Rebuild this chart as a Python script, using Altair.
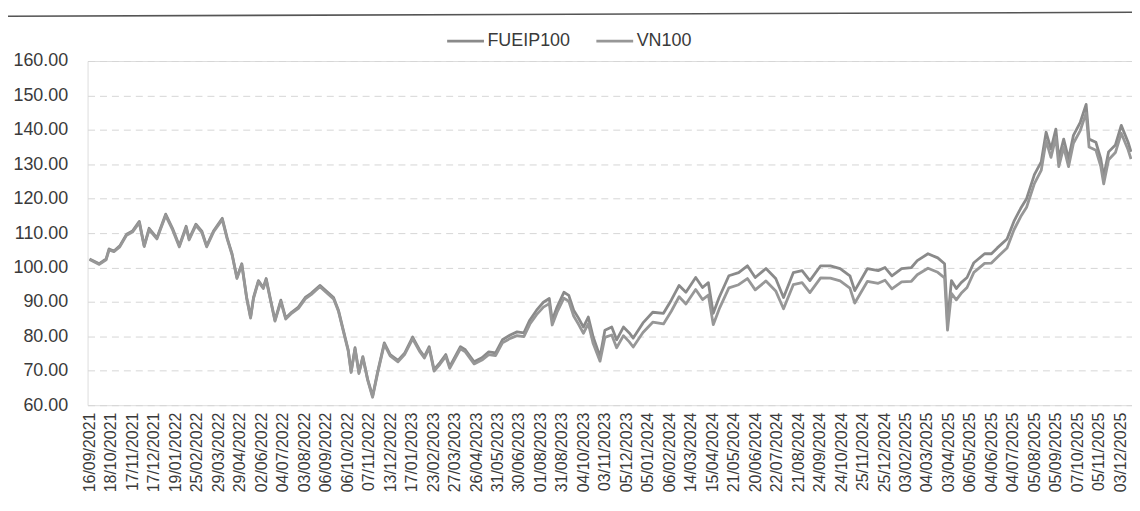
import json
import altair as alt
import pandas as pd

# trading-day index (category position) of each read point
days = [0, 10, 17, 20, 25, 31, 38, 44, 51, 56, 61, 69, 78, 85, 92, 99, 102, 109, 115, 120,
        127, 136, 141, 146, 151, 156, 161, 165, 168, 173, 178, 181, 185, 190, 196, 201, 207, 214, 221, 227,
        236, 242, 250, 255, 260, 265, 268, 272, 276, 280, 285, 290, 295, 302, 308, 316, 323, 331, 338, 343,
        348, 353, 359, 365, 369, 380, 385, 394, 402, 409, 416, 423, 431, 438, 445, 451, 458, 465, 471, 474,
        479, 486, 491, 496, 501, 506, 511, 516, 523, 528, 535, 540, 547, 553, 557, 567, 577, 588, 596, 604,
        611, 621, 628, 634, 639, 645, 655, 665, 674, 682, 693, 703, 711, 721, 730, 738, 749, 759, 769, 779,
        784, 797, 808, 815, 822, 832, 842, 848, 859, 869, 876, 879, 883, 888, 893, 899, 906, 917, 924, 930,
        940, 947, 954, 960, 968, 975, 980, 985, 990, 993, 998, 1003, 1008, 1015, 1021, 1024, 1031, 1036, 1039, 1044,
        1051, 1057, 1064, 1067]

fueip100 = [102.5, 101.1, 102.5, 105.4, 104.8, 106.3, 109.7, 110.6, 113.4, 106.3, 111.4, 108.6, 115.5, 111.4, 106.3, 112.0, 108.3, 112.6, 110.6, 106.3,
            110.6, 114.3, 108.6, 104.0, 97.1, 101.1, 91.3, 85.6, 91.3, 96.2, 94.2, 96.8, 91.3, 84.7, 90.5, 85.3, 87.0, 88.5, 91.3, 92.5,
            94.8, 93.3, 91.3, 87.6, 81.8, 76.1, 69.8, 76.7, 69.5, 74.1, 67.5, 62.6, 69.5, 78.1, 74.7, 73.0, 75.2, 79.8, 76.1, 74.1,
            77.0, 70.3, 72.4, 74.7, 71.2, 77.0, 76.1, 72.6, 73.8, 75.5, 75.2, 79.0, 80.4, 81.3, 81.0, 84.7, 87.6, 89.9, 91.0, 84.7,
            88.5, 92.8, 91.9, 87.6, 85.3, 82.7, 85.6, 79.8, 74.1, 81.8, 82.7, 79.0, 82.7, 81.0, 79.5, 83.9, 87.0, 86.7, 90.5, 94.8,
            92.8, 97.1, 94.2, 95.6, 86.7, 91.3, 97.6, 98.5, 100.5, 97.1, 99.7, 96.8, 91.3, 98.5, 99.1, 96.2, 100.5, 100.5, 99.7, 97.6,
            93.3, 99.7, 99.1, 100.0, 97.6, 99.7, 100.0, 102.0, 104.0, 102.8, 101.1, 84.0, 96.2, 93.9, 95.6, 97.1, 101.4, 104.0, 104.0, 105.7,
            108.3, 113.4, 117.2, 120.0, 127.0, 130.7, 139.3, 134.4, 140.2, 131.6, 137.3, 131.6, 138.4, 142.2, 147.4, 137.3, 136.4, 131.6, 126.4, 133.6,
            135.6, 141.3, 136.4, 133.6]

vn100 = [102.3, 100.9, 102.2, 105.1, 104.6, 106.0, 109.4, 110.3, 113.0, 106.1, 111.0, 108.3, 115.1, 111.0, 106.0, 111.6, 108.0, 112.2, 110.2, 106.0,
         110.3, 113.9, 108.3, 103.7, 96.8, 100.8, 91.0, 85.3, 91.0, 95.9, 93.9, 96.4, 91.0, 84.4, 90.1, 85.0, 86.7, 88.1, 90.9, 92.1,
         94.4, 92.9, 90.9, 87.3, 81.5, 75.8, 69.5, 76.3, 69.2, 73.8, 67.2, 62.3, 69.1, 77.7, 74.3, 72.6, 74.8, 79.3, 75.7, 73.7,
         76.5, 69.9, 71.9, 74.2, 70.7, 76.4, 75.5, 72.0, 73.1, 74.7, 74.4, 78.1, 79.4, 80.2, 79.9, 83.5, 86.3, 88.5, 89.5, 83.3,
         87.0, 91.1, 90.2, 85.9, 83.5, 80.9, 83.7, 77.9, 72.8, 79.7, 80.4, 76.7, 80.2, 78.4, 76.9, 81.1, 84.1, 83.6, 87.3, 91.5,
         89.4, 93.6, 90.7, 92.0, 83.4, 87.9, 94.1, 95.0, 96.8, 93.5, 96.1, 93.2, 88.0, 95.0, 95.6, 92.7, 97.0, 96.9, 96.1, 94.0,
         89.7, 96.0, 95.4, 96.3, 93.8, 95.8, 96.0, 97.9, 99.8, 98.6, 97.0, 81.8, 92.5, 90.6, 92.5, 94.2, 98.6, 101.2, 101.3, 103.0,
         105.7, 110.9, 114.8, 117.5, 124.4, 128.2, 136.8, 132.0, 137.8, 129.3, 135.0, 129.3, 136.1, 139.8, 144.9, 135.0, 134.1, 129.4, 124.3, 131.3,
         133.4, 139.0, 134.2, 131.5]

tick_labels = ["16/09/2021", "18/10/2021", "17/11/2021", "17/12/2021", "19/01/2022", "25/02/2022", "29/03/2022",
               "29/04/2022", "02/06/2022", "04/07/2022", "03/08/2022", "06/09/2022", "06/10/2022", "07/11/2022",
               "13/12/2022", "17/01/2023", "23/02/2023", "27/03/2023", "26/04/2023", "31/05/2023", "30/06/2023",
               "01/08/2023", "31/08/2023", "04/10/2023", "03/11/2023", "05/12/2023", "05/01/2024", "06/02/2024",
               "14/03/2024", "15/04/2024", "21/05/2024", "20/06/2024", "22/07/2024", "21/08/2024", "24/09/2024",
               "24/10/2024", "25/11/2024", "25/12/2024", "03/02/2025", "04/03/2025", "03/04/2025", "06/05/2025",
               "04/06/2025", "04/07/2025", "05/08/2025", "05/09/2025", "07/10/2025", "05/11/2025", "03/12/2025"]
label_step = 22
y_ticks = [60, 70, 80, 90, 100, 110, 120, 130, 140, 150, 160]
series_names = ["FUEIP100", "VN100"]

df = pd.DataFrame({
    "day": days + days,
    "value": fueip100 + vn100,
    "series": [series_names[0]] * len(days) + [series_names[1]] * len(days),
})

tick_vals = [i * label_step for i in range(len(tick_labels))]
label_expr = json.dumps(tick_labels) + "[round(datum.value / " + str(label_step) + ")]"

FONT = "Liberation Sans"

lines = alt.Chart(df).mark_line(strokeWidth=2.8, strokeJoin="round").encode(
    x=alt.X("day:Q",
            scale=alt.Scale(domain=[-2, 1068], nice=False, zero=False),
            axis=alt.Axis(values=tick_vals, labelExpr=label_expr, labelAngle=270,
                          labelFontSize=16, labelFont=FONT, labelColor="#3a3a3a",
                          labelOverlap=False, labelPadding=7, ticks=False, tickSize=0,
                          domain=False, grid=False, title=None,
                          labelBound=False, labelFlush=False)),
    y=alt.Y("value:Q",
            scale=alt.Scale(domain=[60, 160], nice=False, zero=False),
            axis=alt.Axis(values=y_ticks, format=".2f", labelFontSize=18, labelFont=FONT,
                          labelColor="#3a3a3a", labelPadding=20, ticks=False, tickSize=0,
                          domain=False, grid=True, gridColor="#d6d6d6", gridDash=[7, 5],
                          gridWidth=1, title=None)),
    color=alt.Color("series:N",
                    scale=alt.Scale(domain=series_names, range=["#8a8a8a", "#979797"]),
                    legend=alt.Legend(orient="none", legendX=360, legendY=-40,
                                      direction="horizontal", title=None,
                                      symbolType="stroke", symbolSize=1369,
                                      symbolStrokeWidth=3, labelFontSize=18,
                                      labelFont=FONT, labelColor="#3a3a3a",
                                      labelOffset=2, columnPadding=19, padding=0)),
    order=alt.Order("day:Q"),
)

page_line = alt.Chart(pd.DataFrame({"k": [0]})).mark_rule(color="#555555", strokeWidth=1.6).encode(
    x=alt.value(-88), x2=alt.value(1050), y=alt.value(-45), y2=alt.value(-49)
)

chart = alt.layer(page_line, lines).properties(
    width=1050,
    height=346,
    autosize=alt.AutoSizeParams(type="none"),
    padding={"left": 80, "top": 52, "right": 0, "bottom": 89},
).configure_view(stroke=None).configure(background="white")

chart.save("out.html", embed_options={"renderer": "svg", "actions": False})
